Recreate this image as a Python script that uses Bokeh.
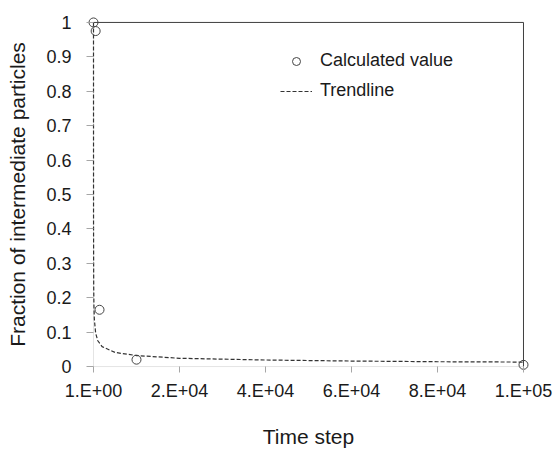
from bokeh.plotting import figure
from bokeh.models import FixedTicker, Range1d, Legend, LegendItem, BoxAnnotation
from bokeh.embed import file_html
from bokeh.resources import INLINE

# Calculated fractions of intermediate particles at selected time steps
time_step = [1, 500, 1400, 10000, 100000]
fraction = [1.0, 0.975, 0.165, 0.02, 0.005]

# Power-law trendline
trend_x = [1, 10, 50, 100, 200, 500, 1000, 2000, 5000, 10000, 20000, 40000, 60000, 80000, 100000]
trend_y = [1.0, 0.42, 0.23, 0.178, 0.137, 0.097, 0.075, 0.058, 0.041, 0.032, 0.024, 0.019, 0.016, 0.014, 0.013]

x_ticks = [1, 20000, 40000, 60000, 80000, 100000]
x_tick_labels = ["1.E+00", "2.E+04", "4.E+04", "6.E+04", "8.E+04", "1.E+05"]
y_ticks = [0, 0.1, 0.2, 0.3, 0.4, 0.5, 0.6, 0.7, 0.8, 0.9, 1]
y_tick_labels = ["0", "0.1", "0.2", "0.3", "0.4", "0.5", "0.6", "0.7", "0.8", "0.9", "1"]

FONT = "Liberation Sans"
TEXT = "#1a1a1a"
AXIS = "#a6a6a6"
FRAME = "#404040"

# small margin around the data box so edge markers stay whole;
# the inward ticks span exactly this margin
xpad = 1628
ypad = 0.0173

p = figure(
    width=554, height=450,
    output_backend="svg", toolbar_location=None,
    x_range=Range1d(x_ticks[0] - xpad, x_ticks[-1] + xpad),
    y_range=Range1d(y_ticks[0] - ypad, y_ticks[-1] + ypad),
    min_border_left=86, min_border_right=24,
    min_border_top=16, min_border_bottom=76,
)
p.outline_line_color = None
p.xgrid.visible = False
p.ygrid.visible = False
p.background_fill_color = "white"
p.border_fill_color = "white"

# gray axis lines on the left and bottom of the data box
box = BoxAnnotation(left=x_ticks[0], right=x_ticks[-1], bottom=y_ticks[0], top=y_ticks[-1],
                    fill_color=None, line_color=AXIS, line_width=1, level="underlay")
p.add_layout(box)

# dark frame lines on top and right
p.segment(x0=[x_ticks[0], x_ticks[-1]], y0=[y_ticks[-1], y_ticks[0]],
          x1=[x_ticks[-1], x_ticks[-1]], y1=[y_ticks[-1], y_ticks[-1]],
          line_color=FRAME, line_width=1)

for ax in (p.xaxis[0], p.yaxis[0]):
    ax.axis_line_color = None
    ax.major_tick_line_color = AXIS
    ax.major_tick_out = 0
    ax.minor_tick_line_color = None
    ax.major_label_text_font = FONT
    ax.major_label_text_font_size = "18px"
    ax.major_label_text_color = TEXT
    ax.axis_label_text_font = FONT
    ax.axis_label_text_font_size = "21px"
    ax.axis_label_text_font_style = "normal"
    ax.axis_label_text_color = TEXT

p.xaxis.ticker = FixedTicker(ticks=x_ticks)
p.xaxis.major_label_overrides = dict(zip(x_ticks, x_tick_labels))
p.xaxis.major_tick_in = 6
p.xaxis.major_label_standoff = 8
p.xaxis.axis_label = "Time step"
p.xaxis.axis_label_standoff = 21

p.yaxis.ticker = FixedTicker(ticks=y_ticks)
p.yaxis.major_label_overrides = dict(zip(y_ticks, y_tick_labels))
p.yaxis.major_tick_in = 7
p.yaxis.major_label_standoff = 15
p.yaxis.axis_label = "Fraction of intermediate particles"
p.yaxis.axis_label_standoff = 14

trend = p.line(trend_x, trend_y, line_color="#333333", line_width=1.2, line_dash="4 2")
pts = p.scatter(time_step, fraction, marker="circle", size=9,
                fill_color=None, line_color="#444444", line_width=1)

legend = Legend(
    items=[LegendItem(label="Calculated value", renderers=[pts]),
           LegendItem(label="Trendline", renderers=[trend])],
    location=(194, 271),
    background_fill_alpha=0, border_line_color=None,
    label_text_font=FONT, label_text_font_size="18px", label_text_color=TEXT,
    glyph_width=32, glyph_height=20, label_height=20, spacing=9,
    label_standoff=8, padding=0, margin=0,
)
p.add_layout(legend)

open("out.html", "w").write(file_html(p, INLINE))
